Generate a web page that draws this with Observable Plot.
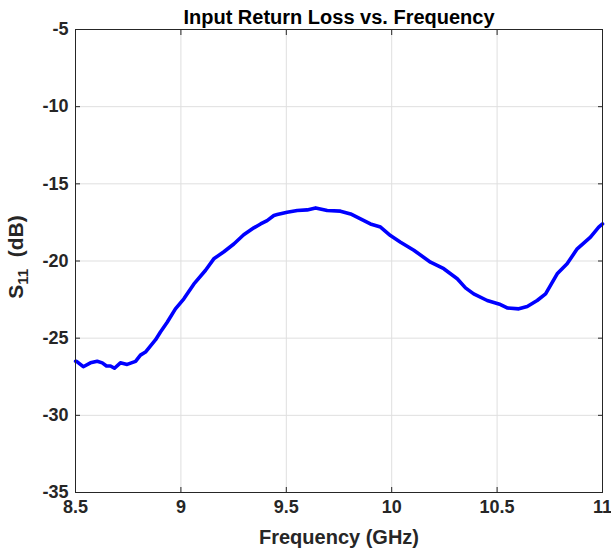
<!DOCTYPE html>
<html>
<head>
<meta charset="utf-8">
<script src="https://cdn.jsdelivr.net/npm/d3@7"></script>
<script src="https://cdn.jsdelivr.net/npm/@observablehq/plot@0.6"></script>
<style>
  html, body { margin: 0; padding: 0; background: #fff; }
</style>
</head>
<body>
<div id="chart"></div>
<script>
const titleText = "Input Return Loss vs. Frequency";
const xLabel = "Frequency (GHz)";
const xTicks = [8.5, 9, 9.5, 10, 10.5, 11];
const yTicks = [-35, -30, -25, -20, -15, -10, -5];

// Frequency (GHz)
const freq = [8.5, 8.505, 8.537, 8.571, 8.603, 8.627, 8.647, 8.666, 8.685, 8.713, 8.745, 8.785, 8.808, 8.832, 8.856, 8.880, 8.903, 8.935, 8.974, 9.014, 9.061, 9.117, 9.156, 9.204, 9.251, 9.298, 9.346, 9.378, 9.409, 9.441, 9.457, 9.504, 9.552, 9.599, 9.639, 9.694, 9.757, 9.805, 9.852, 9.899, 9.947, 9.994, 10.042, 10.105, 10.184, 10.247, 10.311, 10.350, 10.389, 10.453, 10.516, 10.548, 10.603, 10.643, 10.690, 10.730, 10.785, 10.832, 10.880, 10.943, 10.982, 11.0];
// S11 (dB)
const s11 = [-26.5, -26.5, -26.85, -26.6, -26.5, -26.6, -26.8, -26.8, -26.95, -26.6, -26.7, -26.5, -26.1, -25.9, -25.5, -25.1, -24.6, -23.97, -23.1, -22.45, -21.5, -20.6, -19.86, -19.4, -18.9, -18.3, -17.85, -17.6, -17.38, -17.05, -16.99, -16.84, -16.73, -16.69, -16.56, -16.73, -16.77, -16.95, -17.27, -17.6, -17.8, -18.35, -18.78, -19.3, -20.08, -20.5, -21.15, -21.74, -22.13, -22.56, -22.82, -23.04, -23.1, -22.95, -22.56, -22.13, -20.83, -20.18, -19.21, -18.45, -17.81, -17.6];

const data = freq.map((f, i) => ({f, s: s11[i]}));
const fmt = d => String(d);
const font = "'Liberation Sans', Arial, Helvetica, sans-serif";
const axisColor = "#262626";

const chart = Plot.plot({
  width: 611,
  height: 549,
  marginLeft: 75,
  marginRight: 9,
  marginTop: 29,
  marginBottom: 57,
  style: {fontFamily: font, fontWeight: "bold", fontSize: "18px", color: axisColor, background: "#fff"},
  x: {domain: [8.5, 11]},
  y: {domain: [-35, -5]},
  marks: [
    Plot.gridX(xTicks, {stroke: "#dfdfdf", strokeOpacity: 1, strokeWidth: 1}),
    Plot.gridY(yTicks, {stroke: "#dfdfdf", strokeOpacity: 1, strokeWidth: 1}),
    Plot.line(data, {x: "f", y: "s", stroke: "#0000ff", strokeWidth: 3.6, strokeLinejoin: "round", strokeLinecap: "round"}),
    Plot.frame({stroke: axisColor, strokeWidth: 1}),
    // inward ticks on all four sides
    Plot.axisX({anchor: "bottom", ticks: xTicks, tickSize: 5, text: null, label: null, dy: -5, stroke: axisColor}),
    Plot.axisX({anchor: "top", ticks: xTicks, tickSize: 5, text: null, label: null, dy: 5, stroke: axisColor}),
    Plot.axisY({anchor: "left", ticks: yTicks, tickSize: 5, text: null, label: null, dx: 5, stroke: axisColor}),
    Plot.axisY({anchor: "right", ticks: yTicks, tickSize: 5, text: null, label: null, dx: -5, stroke: axisColor}),
    // tick labels
    Plot.axisX({anchor: "bottom", ticks: xTicks, tickSize: 0, tickPadding: 8, tickFormat: fmt, label: null, fontSize: 18, fill: axisColor}),
    Plot.axisY({anchor: "left", ticks: yTicks, tickSize: 0, tickPadding: 7, tickFormat: fmt, label: null, fontSize: 18, fill: axisColor}),
    // title and x label
    Plot.text([titleText], {frameAnchor: "top", dy: -12, fontSize: 20, fontWeight: "bold", fill: "#000", lineAnchor: "middle"}),
    Plot.text([xLabel], {frameAnchor: "bottom", dy: 45, fontSize: 20, fontWeight: "bold", fill: axisColor, lineAnchor: "middle"})
  ]
});

// y label with subscript
const svg = d3.select(chart);
const yl = svg.append("text")
  .attr("transform", "translate(23,257) rotate(-90)")
  .attr("text-anchor", "middle")
  .attr("fill", axisColor)
  .attr("font-size", 21)
  .attr("font-weight", "bold")
  .attr("font-family", font);
yl.append("tspan").text("S");
yl.append("tspan").attr("font-size", 15).attr("dy", 5).text("11");
yl.append("tspan").attr("dy", -5).text("  (dB)").attr("xml:space", "preserve");

document.getElementById("chart").appendChild(chart);
</script>
</body>
</html>
